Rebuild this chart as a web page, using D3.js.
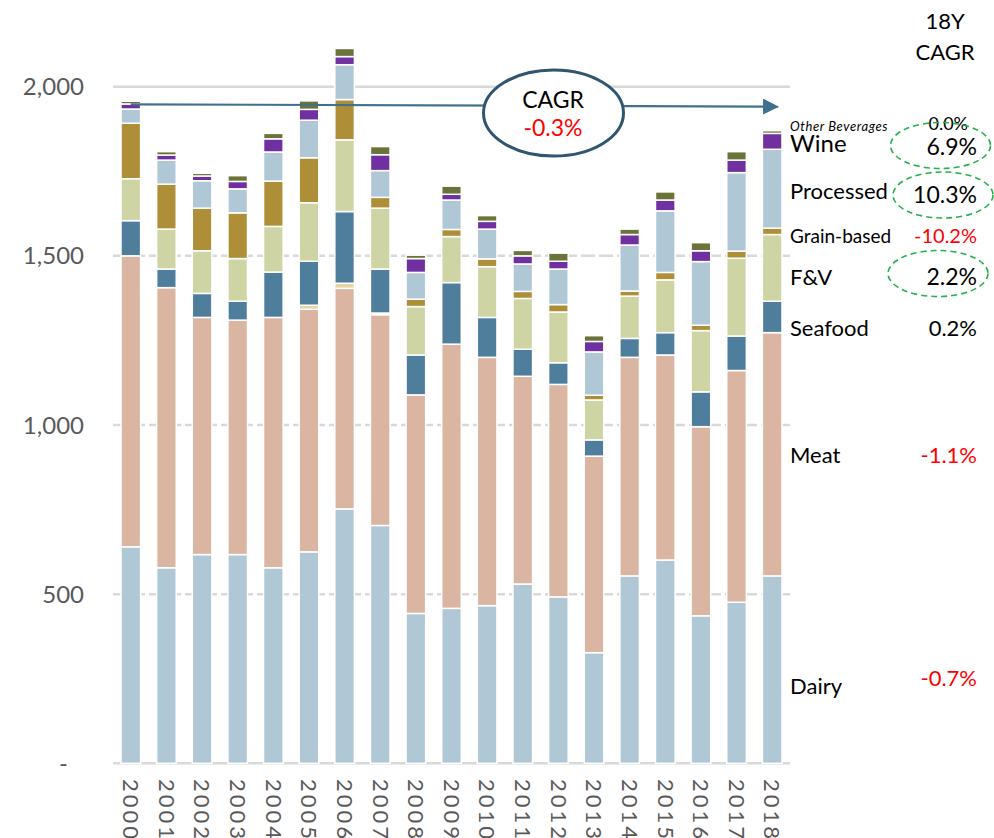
<!DOCTYPE html>
<html>
<head>
<meta charset="utf-8">
<title>Food spend by category</title>
<script src="https://cdn.jsdelivr.net/npm/d3@7/dist/d3.min.js"></script>
<style>
body { margin: 0; background: #fff; font-family: Lato, "Open Sans", sans-serif; }
.tick-y { fill: #595959; font-size: 24px; }
.tick-x { fill: #595959; font-size: 22px; letter-spacing: 3px; }
.lbl { fill: #000; }
</style>
</head>
<body>
<div id="chart"></div>
<script>

// years on the x axis
var years = ["2000","2001","2002","2003","2004","2005","2006","2007","2008","2009",
             "2010","2011","2012","2013","2014","2015","2016","2017","2018"];

// series values (bottom of stack first)
var dairy     = [640, 578, 617, 617, 578, 625, 752, 703, 443, 458, 466, 530, 492, 327, 554, 601, 436, 476, 554];
var meat      = [860, 828, 701, 693, 740, 717, 652, 623, 646, 781, 734, 614, 628, 581, 646, 606, 559, 685, 719];
var other     = [0, 0, 0, 0, 0, 12, 15, 5, 0, 0, 0, 0, 0, 0, 0, 0, 0, 0, 0];
var seafood   = [104, 55, 71, 56, 134, 130, 212, 130, 118, 182, 118, 80, 64, 48, 56, 66, 103, 102, 93];
var fv        = [124, 118, 126, 126, 135, 173, 212, 180, 143, 136, 150, 150, 150, 118, 125, 156, 181, 230, 197];
var grain     = [164, 133, 126, 135, 134, 133, 119, 32, 22, 21, 23, 21, 22, 14, 15, 22, 16, 21, 19];
var processed = [42, 71, 81, 71, 86, 111, 103, 79, 79, 87, 88, 81, 105, 128, 136, 182, 188, 232, 233];
var wine      = [15, 15, 14, 22, 39, 32, 24, 47, 41, 17, 23, 24, 23, 31, 31, 32, 32, 37, 47];
var otherBev  = [8, 10, 8, 17, 16, 25, 24, 24, 10, 24, 17, 16, 24, 17, 16, 24, 24, 25, 8];

var yTicks = [0, 500, 1000, 1500, 2000];
var yTickLabels = ["-", "500", "1,000", "1,500", "2,000"];

// trend arrow (value at start, value at end) and total CAGR
var trendValues = [1948, 1941];
var totalCagr = "-0.3%";

// legend labels and 18Y CAGR, top to bottom
var legendNames = ["Other Beverages", "Wine", "Processed", "Grain-based", "F&V", "Seafood", "Meat", "Dairy"];
var legendCagr  = ["0.0%", "6.9%", "10.3%", "-10.2%", "2.2%", "0.2%", "-1.1%", "-0.7%"];

var keys = ["dairy","meat","other","seafood","fv","grain","processed","wine","otherBev"];
var series = {dairy: dairy, meat: meat, other: other, seafood: seafood, fv: fv,
              grain: grain, processed: processed, wine: wine, otherBev: otherBev};

var colors = {
  dairy: "#b0c7d6", meat: "#d9b5a2", other: "#e6d4a4", seafood: "#4f7e9d",
  fv: "#cfd4a4", grain: "#ae8e37", processed: "#b0c7d6", wine: "#7030a0", otherBev: "#6b7339"
};

var rows = years.map(function(yr, i) {
  var r = {year: yr};
  keys.forEach(function(k) { r[k] = series[k][i]; });
  return r;
});

var width = 994, height = 838;

var svg = d3.select("#chart").append("svg")
  .attr("width", width)
  .attr("height", height);

var x = d3.scaleBand()
  .domain(years)
  .range([113, 790])
  .paddingInner(0.45)
  .paddingOuter(0.225);

var y = d3.scaleLinear()
  .domain([0, 2000])
  .range([763.3, 86.7]);

// grid lines
svg.selectAll(".grid")
  .data(yTicks.slice(1))
  .enter().append("line")
  .attr("x1", 113).attr("x2", 790)
  .attr("y1", function(d) { return y(d); })
  .attr("y2", function(d) { return y(d); })
  .attr("stroke", "#d9d9d9")
  .attr("stroke-width", 2.5)
  .attr("stroke-dasharray", function(d) { return d === 2000 ? null : "14,4"; });

svg.append("line")
  .attr("x1", 113).attr("x2", 790)
  .attr("y1", y(0)).attr("y2", y(0))
  .attr("stroke", "#d9d9d9")
  .attr("stroke-width", 2.5);

// y tick labels
svg.selectAll(".tick-y")
  .data(yTicks)
  .enter().append("text")
  .attr("class", "tick-y")
  .attr("x", function(d) { return d === 0 ? 68 : 84; })
  .attr("y", function(d) { return y(d); })
  .attr("dy", "0.36em")
  .attr("text-anchor", "end")
  .text(function(d, i) { return yTickLabels[i]; });

// x tick labels, rotated to read downwards
svg.selectAll(".tick-x")
  .data(years)
  .enter().append("text")
  .attr("class", "tick-x")
  .attr("transform", function(d) {
    return "translate(" + (x(d) + x.bandwidth() / 2) + ",779) rotate(90)";
  })
  .attr("dy", "0.35em")
  .text(function(d) { return d; });

// stacked bars
var stack = d3.stack().keys(keys)(rows);

var layer = svg.selectAll(".layer")
  .data(stack)
  .enter().append("g")
  .attr("class", "layer")
  .attr("fill", function(d) { return colors[d.key]; });

layer.selectAll("rect")
  .data(function(d) { return d.filter(function(p) { return p[1] - p[0] > 0; }); })
  .enter().append("rect")
  .attr("x", function(d) { return x(d.data.year); })
  .attr("width", x.bandwidth())
  .attr("y", function(d) { return y(d[1]); })
  .attr("height", function(d) { return y(d[0]) - y(d[1]); })
  .attr("stroke", "#fff")
  .attr("stroke-width", 1.5);

// trend arrow
svg.append("defs").append("marker")
  .attr("id", "head")
  .attr("markerUnits", "userSpaceOnUse")
  .attr("viewBox", "0 0 16 16")
  .attr("refX", 15).attr("refY", 8)
  .attr("markerWidth", 16).attr("markerHeight", 16)
  .attr("orient", "auto")
  .append("path")
  .attr("d", "M0,0L16,8L0,16Z")
  .attr("fill", "#41708f");

svg.append("line")
  .attr("x1", x("2000") + x.bandwidth() / 2)
  .attr("y1", y(trendValues[0]))
  .attr("x2", x("2018") + x.bandwidth() * 0.8)
  .attr("y2", y(trendValues[1]))
  .attr("stroke", "#41708f")
  .attr("stroke-width", 2.2)
  .attr("marker-end", "url(#head)");

// CAGR bubble
svg.append("ellipse")
  .attr("cx", 553.5).attr("cy", 113)
  .attr("rx", 70).attr("ry", 43)
  .attr("fill", "#fff")
  .attr("stroke", "#2f5671")
  .attr("stroke-width", 3);

svg.append("text")
  .attr("x", 553).attr("y", 108)
  .attr("text-anchor", "middle")
  .style("font-size", "23px")
  .attr("fill", "#000")
  .text("CAGR");

svg.append("text")
  .attr("x", 553).attr("y", 136)
  .attr("text-anchor", "middle")
  .style("font-size", "23px")
  .attr("fill", "#ff0000")
  .text(totalCagr);

// right-hand header
svg.append("text")
  .attr("x", 945).attr("y", 29)
  .attr("text-anchor", "middle")
  .style("font-size", "22px")
  .text("18Y");
svg.append("text")
  .attr("x", 945).attr("y", 60)
  .attr("text-anchor", "middle")
  .style("font-size", "22px")
  .text("CAGR");

// legend labels and CAGRs
var legendY    = [131, 152, 199, 243, 285, 336, 463, 694];
var pctY       = [130, 155, 203, 243, 285, 336, 463, 686];
var legendSize = [13, 24, 22, 19, 22, 22, 22, 22];
var pctSize    = [18, 23, 23, 20, 23, 22, 22, 22];

svg.selectAll(".lbl")
  .data(legendNames)
  .enter().append("text")
  .attr("class", "lbl")
  .attr("x", 790)
  .attr("y", function(d, i) { return legendY[i]; })
  .style("font-size", function(d, i) { return legendSize[i] + "px"; })
  .style("font-style", function(d, i) { return i === 0 ? "italic" : null; })
  .style("letter-spacing", function(d, i) { return i === 0 ? "0.6px" : null; })
  .text(function(d) { return d; });

svg.selectAll(".pct")
  .data(legendCagr)
  .enter().append("text")
  .attr("class", "pct")
  .attr("x", function(d, i) { return i === 0 ? 968 : 977; })
  .attr("y", function(d, i) { return pctY[i]; })
  .attr("text-anchor", "end")
  .style("font-size", function(d, i) { return pctSize[i] + "px"; })
  .attr("fill", function(d) { return d.charAt(0) === "-" ? "#ff0000" : "#000"; })
  .text(function(d) { return d; });

// green dashed highlight rings
var rings = [[940.5, 145.5], [943, 195], [938, 273.5]];
svg.selectAll(".ring")
  .data(rings)
  .enter().append("ellipse")
  .attr("cx", function(d) { return d[0]; })
  .attr("cy", function(d) { return d[1]; })
  .attr("rx", 50).attr("ry", 23)
  .attr("fill", "none")
  .attr("stroke", "#22b14c")
  .attr("stroke-width", 1.6)
  .attr("stroke-dasharray", "6,4");

</script>
</body>
</html>
